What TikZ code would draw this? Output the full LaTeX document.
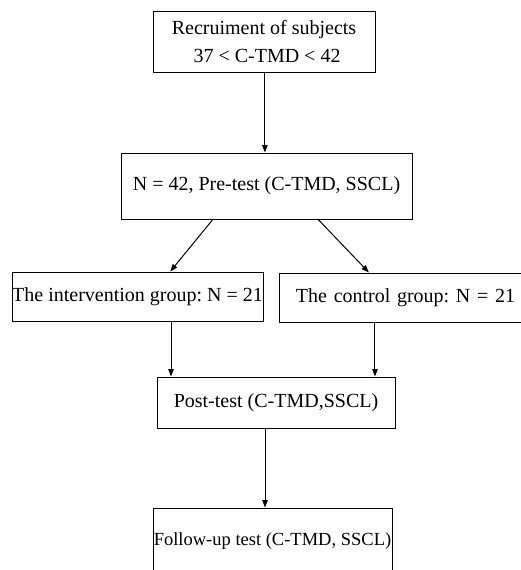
\documentclass[tikz,border=0pt]{standalone}
\usepackage{fontspec}
\setmainfont{Liberation Serif}
\usetikzlibrary{arrows.meta,calc}
\begin{document}
\frenchspacing
\begin{tikzpicture}[x=1pt,y=-1pt,
  box/.style={draw,line width=1pt,rectangle,inner sep=0pt,align=center,
    font=\fontsize{20}{28}\selectfont\frenchspacing},
  arr/.style={line width=1pt,-{Triangle[length=7.5pt,width=5.5pt]}}]
\useasboundingbox (0,0) rectangle (520,570);
\node[box,minimum width=222pt,minimum height=61pt] (b1) at (264,41.5)
  {Recruiment of subjects\\\hspace*{6pt}37 < C-TMD < 42};
\node[box,minimum width=291pt,minimum height=66pt] (b2) at (266.5,186)
  {N = 42, Pre-test (C-TMD, SSCL)};
\node[box,minimum width=251pt,minimum height=49pt] (b3) at (137.5,296.5)
  {The intervention group: N = 21};
\node[box,minimum width=242pt,minimum height=49pt,inner xsep=6pt,text width=230pt,align=right] (b4) at (400,297.5)
  {The control group: N = 21};
\node[box,minimum width=238pt,minimum height=51pt] (b5) at (276,402.5)
  {Post-test (C-TMD,SSCL)};
\node[box,minimum width=239pt,minimum height=67pt,font=\fontsize{18.5}{24}\selectfont\frenchspacing] (b6) at (272.5,541.5)
  {Follow-up test (C-TMD, SSCL)};
% connectors
\coordinate (a1) at ($(b1.south west)!0.504!(b1.south east)$);
\draw[arr] (a1) -- (a1 |- b2.north);
\coordinate (l0) at ($(b2.south west)!0.316!(b2.south east)$);
\coordinate (l1) at ($(b3.north west)!0.63!(b3.north east)$);
\draw[arr] (l0) -- (l1);
\coordinate (r0) at ($(b2.south west)!0.677!(b2.south east)$);
\coordinate (r1) at ($(b4.north west)!0.372!(b4.north east)$);
\draw[arr] (r0) -- (r1);
\coordinate (d1) at ($(b3.south west)!0.633!(b3.south east)$);
\draw[arr] (d1) -- (d1 |- b5.north);
\coordinate (d2) at ($(b4.south west)!0.397!(b4.south east)$);
\draw[arr] (d2) -- (d2 |- b5.north);
\coordinate (a5) at ($(b5.south west)!0.454!(b5.south east)$);
\draw[arr] (a5) -- (a5 |- b6.north);
\end{tikzpicture}
\end{document}
